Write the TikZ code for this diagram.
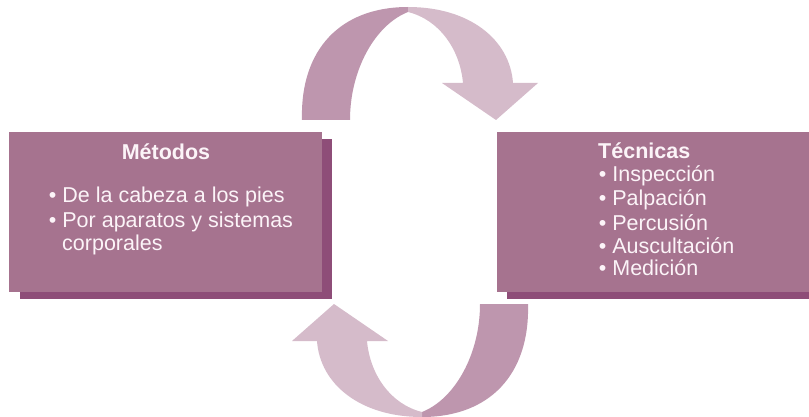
\documentclass[tikz,border=0pt]{standalone}
\usepackage{fontspec}
\setmainfont{Liberation Sans}
\definecolor{boxfront}{RGB}{166,115,143}
\definecolor{boxshadow}{RGB}{142,77,120}
\definecolor{arrdark}{RGB}{190,150,174}
\definecolor{arrlight}{RGB}{213,187,202}
\definecolor{txt}{RGB}{252,244,248}
\tikzset{
  frontbox/.style={fill=boxfront, draw=none, inner sep=0pt, anchor=north west},
  shadowbox/.style={fill=boxshadow, draw=none, inner sep=0pt, anchor=north west},
  txtline/.style={text=txt, inner sep=0pt, anchor=base west, font=\fontsize{21.5}{23.5}\selectfont},
  txttitle/.style={txtline, font=\fontsize{21.5}{23.5}\selectfont\bfseries},
}
\newcommand{\curvedarrow}{%
  \fill[arrdark] (302,120) .. controls (300,50) and (340,7) .. (408,7)
     -- (408,12) .. controls (375,25) and (350,70) .. (350,120) -- cycle;
  \fill[arrlight] (463,83) -- (442,83) -- (496,120) -- (538,83) -- (513,83)
     .. controls (510,40) and (470,7) .. (408,7)
     -- (408,12) .. controls (440,20) and (460,50) .. (463,83) -- cycle;
}
\begin{document}
\begin{tikzpicture}[x=1pt,y=-1pt]
\useasboundingbox (0,0) rectangle (809,417);
% curved arrows
\curvedarrow
\begin{scope}[rotate around={180:(415,212)}]
\curvedarrow
\end{scope}
% left box
\node[shadowbox, minimum width=312pt, minimum height=160pt] (mshadow) at (20,139) {};
\node[frontbox, minimum width=313pt, minimum height=160pt] (mbox) at (9,132) {};
% right box
\node[shadowbox, minimum width=302pt, minimum height=160pt] (tshadow) at (507,139) {};
\node[frontbox, minimum width=312pt, minimum height=160pt] (tbox) at (497,132) {};
% left text
\node[txttitle, anchor=base] (mtitle) at (166,160) {Métodos};
\node[txtline] (m1) at (48.7,203) {• De la cabeza a los pies};
\node[txtline] (m2) at (48.7,227) {• Por aparatos y sistemas};
\node[txtline] (m3) at (62,250) {corporales};
% right text
\node[txttitle] (ttitle) at (598,159) {Técnicas};
\node[txtline] (t1) at (598.7,182) {• Inspección};
\node[txtline] (t2) at (598.7,206) {• Palpación};
\node[txtline] (t3) at (598.7,230) {• Percusión};
\node[txtline] (t4) at (598.7,253) {• Auscultación};
\node[txtline] (t5) at (598.7,275) {• Medición};
\end{tikzpicture}
\end{document}
